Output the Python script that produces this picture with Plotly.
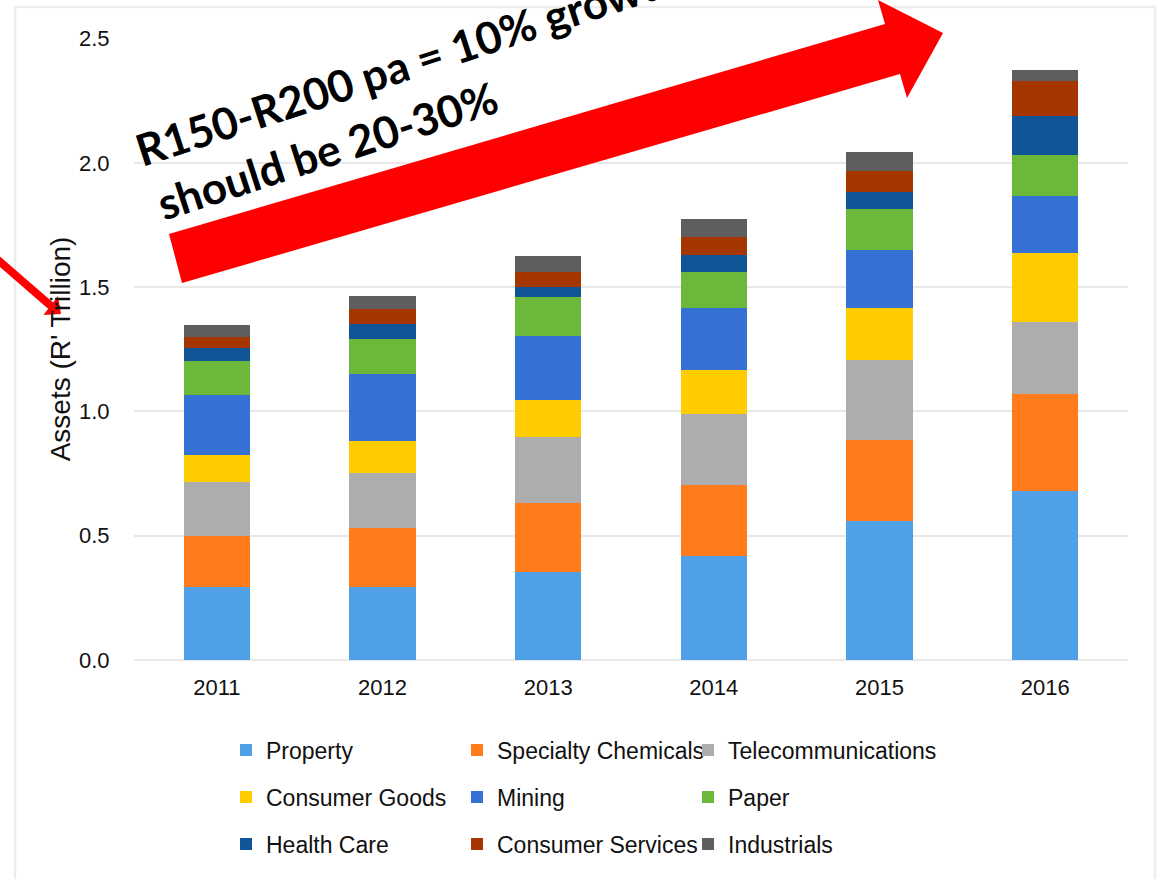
import plotly.graph_objects as go

# ---------------- data ----------------
years = ["2011", "2012", "2013", "2014", "2015", "2016"]
series_names = ["Property", "Specialty Chemicals", "Telecommunications",
                "Consumer Goods", "Mining", "Paper",
                "Health Care", "Consumer Services", "Industrials"]
property_vals = [0.294, 0.292, 0.355, 0.418, 0.561, 0.680]
specialty_chemicals = [0.206, 0.238, 0.275, 0.286, 0.322, 0.388]
telecommunications = [0.217, 0.223, 0.266, 0.286, 0.322, 0.291]
consumer_goods = [0.106, 0.129, 0.150, 0.177, 0.212, 0.278]
mining = [0.244, 0.267, 0.257, 0.248, 0.232, 0.229]
paper = [0.136, 0.141, 0.156, 0.147, 0.167, 0.165]
health_care = [0.051, 0.062, 0.043, 0.067, 0.067, 0.157]
consumer_services = [0.044, 0.059, 0.060, 0.074, 0.085, 0.140]
industrials = [0.049, 0.053, 0.064, 0.070, 0.074, 0.044]
series_values = [property_vals, specialty_chemicals, telecommunications,
                 consumer_goods, mining, paper,
                 health_care, consumer_services, industrials]
colors = ["#4FA0E6", "#FF7B1C", "#ADADAD", "#FFCC00", "#3570D4",
          "#6CB83A", "#105596", "#A63600", "#5E5E5E"]
y_ticks = [0.0, 0.5, 1.0, 1.5, 2.0, 2.5]
y_title = "Assets (R' Trillion)"
note_line1 = "R150-R200 pa = 10% growth"
note_line2 = "should be 20-30%"

# ---------------- layout geometry ----------------
W, H = 1160, 879
ML, MR, MT, MB = 134, 32, 38, 219
PW = W - ML - MR
PH = H - MT - MB
FONT = "Liberation Sans, Arial, sans-serif"
NOTE_FONT = "Lato, Open Sans, sans-serif"


def P(px, py):
    """pixel -> paper coordinates"""
    return (px - ML) / PW, (H - MB - py) / PH


def path(points):
    pts = [P(x, y) for x, y in points]
    return "M " + " L ".join(f"{x:.5f},{y:.5f}" for x, y in pts) + " Z"


fig = go.Figure()
legend_ids = ["legend", "legend2", "legend3"]
for i, (name, vals, col) in enumerate(zip(series_names, series_values, colors)):
    fig.add_trace(go.Bar(
        x=years, y=vals, name=name,
        marker=dict(color=col, line=dict(width=0)),
        legend=legend_ids[i // 3],
        legendwidth=186 if i % 3 < 2 else 260,
    ))

legend_common = dict(
    orientation="h", xanchor="left", yanchor="middle", traceorder="normal",
    entrywidthmode="pixels", itemwidth=30,
    font=dict(family=FONT, size=23, color="#111111"),
    bgcolor="rgba(0,0,0,0)",
)
lx, _ = P(226, 0)
rows_y = [750, 797, 844]

shapes = []
# outer light border
x0, y0 = P(15, 7)
x1, y1 = P(1155, 900)
shapes.append(dict(type="rect", xref="paper", yref="paper", x0=x0, y0=y0, x1=x1, y1=y1,
                   line=dict(color="#EDEDED", width=2.5), layer="below"))
# big red block arrow
shapes.append(dict(type="path", xref="paper", yref="paper",
                   path=path([(182, 283), (169, 234), (885, 24), (878, 0),
                              (943, 33), (907, 98), (900, 74)]),
                   fillcolor="#FF0000", line=dict(width=0), layer="above"))
# small red arrow on the left
sx0, sy0 = P(-10, 253)
sx1, sy1 = P(51, 306)
shapes.append(dict(type="line", xref="paper", yref="paper", x0=sx0, y0=sy0, x1=sx1, y1=sy1,
                   line=dict(color="#FF0000", width=8)))
shapes.append(dict(type="path", xref="paper", yref="paper",
                   path=path([(43.5, 315), (61, 314), (58, 296)]),
                   fillcolor="#FF0000", line=dict(width=0)))

ax1, ay1 = P(407, 63)
ax2, ay2 = P(327, 150)
annotations = [
    dict(text=note_line1, x=ax1, y=ay1, xref="paper", yref="paper", showarrow=False,
         textangle=-18, xanchor="center", yanchor="middle",
         font=dict(family=NOTE_FONT, size=44, color="#000000", weight="bold")),
    dict(text=note_line2, x=ax2, y=ay2, xref="paper", yref="paper", showarrow=False,
         textangle=-18, xanchor="center", yanchor="middle",
         font=dict(family=NOTE_FONT, size=44, color="#000000", weight="bold")),
]

layout = dict(
    width=W, height=H,
    margin=dict(l=ML, r=MR, t=MT, b=MB, pad=0),
    paper_bgcolor="white", plot_bgcolor="white",
    barmode="stack", bargap=0.6,
    font=dict(family=FONT, color="#111111"),
    xaxis=dict(type="category", showgrid=False, showline=False, zeroline=False,
               ticks="outside", ticklen=8, tickcolor="rgba(0,0,0,0)",
               tickfont=dict(family=FONT, size=22, color="#111111")),
    yaxis=dict(range=[0, 2.502], tickvals=y_ticks, tickformat=".1f",
               showgrid=True, gridcolor="#E8E8E8", gridwidth=1.5,
               zeroline=True, zerolinecolor="#E8E8E8", zerolinewidth=1.5,
               showline=False,
               ticks="outside", ticklen=19, tickcolor="rgba(0,0,0,0)",
               tickfont=dict(family=FONT, size=22, color="#111111"),
               title=dict(text=y_title, standoff=0,
                          font=dict(family=FONT, size=28, color="#111111"))),
    shapes=shapes,
    annotations=annotations,
    showlegend=True,
)
for lid, ry in zip(legend_ids, rows_y):
    _, ly = P(0, ry)
    layout[lid] = dict(legend_common, x=lx, y=ly)

fig.update_layout(**layout)
fig.write_html("out.html")
